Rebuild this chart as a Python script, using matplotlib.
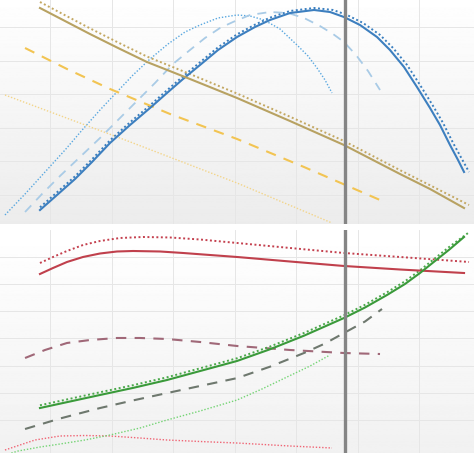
import matplotlib
matplotlib.use("Agg")
import matplotlib.pyplot as plt
import numpy as np

# ---- top panel data ----
blue_x = [0.837, 1.114, 1.407, 1.683, 1.976, 2.301, 2.626, 2.902, 3.163, 3.439, 3.732, 4.041, 4.333, 4.577,
		  4.902, 5.293, 5.553, 5.780, 6.041, 6.317, 6.528, 6.756, 6.967, 7.179, 7.341, 7.504, 7.634, 7.732]
blue_y = [0.553, 1.000, 1.476, 1.982, 2.548, 3.083, 3.589, 4.036, 4.452, 4.869, 5.315, 5.702, 6.000, 6.208,
		  6.416, 6.506, 6.446, 6.297, 6.059, 5.702, 5.315, 4.809, 4.214, 3.589, 3.083, 2.488, 2.042, 1.685]
blue_dot_x = [0.837, 1.114, 1.407, 1.683, 1.976, 2.301, 2.626, 2.902, 3.163, 3.439, 3.732, 4.041, 4.333, 4.577,
			  4.902, 5.293, 5.603, 5.830, 6.091, 6.367, 6.578, 6.806, 7.017, 7.229, 7.391, 7.554, 7.694, 7.813]
blue_dot_y = [0.633, 1.080, 1.556, 2.062, 2.628, 3.163, 3.669, 4.116, 4.532, 4.949, 5.395, 5.782, 6.070, 6.278,
			  6.476, 6.566, 6.506, 6.357, 6.119, 5.762, 5.375, 4.869, 4.274, 3.649, 3.143, 2.548, 2.082, 1.685]
blue_dash_x = [0.594, 0.870, 1.163, 1.488, 1.813, 2.138, 2.415, 2.707, 3.000, 3.276, 3.520, 3.764, 3.976, 4.252,
			   4.577, 4.870, 5.130, 5.390, 5.602, 5.780, 5.976, 6.171, 6.366]
blue_dash_y = [0.494, 1.030, 1.566, 2.131, 2.696, 3.292, 3.798, 4.333, 4.900, 5.315, 5.672, 5.970, 6.149, 6.357,
			   6.446, 6.416, 6.268, 6.029, 5.791, 5.553, 5.166, 4.690, 4.125]
blue_dot2_x = [0.268, 0.594, 0.919, 1.244, 1.537, 1.813, 2.057, 2.350, 2.626, 2.919, 3.195, 3.439, 3.732, 4.041,
			   4.252, 4.480, 4.740, 5.016, 5.195, 5.341, 5.472, 5.585]
blue_dot2_y = [0.405, 1.030, 1.685, 2.339, 2.964, 3.530, 4.006, 4.571, 5.047, 5.494, 5.851, 6.059, 6.268, 6.357,
			   6.327, 6.208, 5.940, 5.464, 5.137, 4.780, 4.422, 4.036]

gold_x = [0.837, 1.244, 1.650, 2.106, 2.577, 3.276, 4.041, 4.902, 5.780, 6.691, 7.179, 7.732]
gold_y = [6.565, 6.178, 5.791, 5.375, 4.958, 4.452, 3.887, 3.202, 2.488, 1.625, 1.179, 0.613]
gold_dot_x = [0.837, 1.244, 1.650, 2.106, 2.577, 3.276, 4.041, 4.902, 5.780, 6.691, 7.179, 7.813]
gold_dot_y = [6.744, 6.350, 5.960, 5.540, 5.120, 4.600, 4.020, 3.330, 2.607, 1.740, 1.290, 0.702]
gold_dash_x = [0.594, 1.276, 1.976, 2.951, 4.041, 5.130, 6.366]
gold_dash_y = [5.375, 4.750, 4.155, 3.411, 2.667, 1.833, 0.851]
gold_dot2_x = [0.268, 2.138, 4.041, 5.585]
gold_dot2_y = [3.976, 2.696, 1.357, 0.167]

# ---- bottom panel data ----
red_x = [0.837, 1.049, 1.276, 1.537, 1.813, 2.089, 2.350, 2.789, 3.163, 3.602, 4.041, 4.902, 5.780, 6.691, 7.732]
red_y = [6.368, 6.588, 6.809, 6.993, 7.121, 7.195, 7.213, 7.195, 7.140, 7.066, 6.993, 6.827, 6.662, 6.533, 6.404]
red_dot_x = [0.837, 1.049, 1.276, 1.537, 1.813, 2.138, 2.512, 2.951, 3.439, 4.041, 4.902, 5.780, 6.691, 7.813]
red_dot_y = [6.772, 6.993, 7.213, 7.434, 7.581, 7.691, 7.728, 7.710, 7.636, 7.508, 7.324, 7.140, 6.993, 6.809]
red_dash_x = [0.594, 0.919, 1.276, 1.650, 2.089, 2.463, 2.902, 3.439, 4.041, 4.902, 5.780, 6.366]
red_dash_y = [3.279, 3.574, 3.831, 3.941, 4.015, 4.015, 3.978, 3.868, 3.721, 3.574, 3.463, 3.426]
red_dot2_x = [0.268, 0.512, 0.756, 1.163, 1.569, 1.976, 2.463, 2.902, 3.439, 4.041, 4.902, 5.585]
red_dot2_y = [-0.103, 0.081, 0.265, 0.412, 0.430, 0.412, 0.338, 0.265, 0.210, 0.154, 0.044, -0.029]

green_x = [0.837, 1.325, 1.813, 2.350, 2.902, 3.439, 4.041, 4.577, 5.130, 5.780, 6.122, 6.480, 6.772, 7.016,
		   7.260, 7.504, 7.732]
green_y = [1.441, 1.680, 1.920, 2.180, 2.470, 2.800, 3.170, 3.600, 4.100, 4.750, 5.136, 5.596, 6.000, 6.404,
		   6.846, 7.287, 7.728]
green_dot_x = [0.837, 1.325, 1.813, 2.350, 2.902, 3.439, 4.041, 4.577, 5.130, 5.780, 6.122, 6.480, 6.772, 7.016,
			   7.260, 7.504, 7.813]
green_dot_y = [1.541, 1.780, 2.020, 2.280, 2.570, 2.900, 3.270, 3.700, 4.200, 4.850, 5.236, 5.696, 6.100, 6.504,
			   6.946, 7.387, 7.900]
gray_dash_x = [0.594, 1.163, 1.813, 2.350, 2.902, 3.439, 4.041, 4.577, 5.130, 5.472, 5.780, 6.122, 6.398]
gray_dash_y = [0.669, 1.055, 1.440, 1.720, 1.990, 2.250, 2.540, 2.960, 3.463, 3.813, 4.199, 4.621, 5.081]
green_dot2_x = [0.268, 0.480, 0.837, 1.163, 1.569, 1.976, 2.463, 2.902, 3.439, 4.041, 4.447, 4.854, 5.228, 5.553]
green_dot2_y = [-0.287, -0.140, 0.007, 0.118, 0.265, 0.449, 0.706, 1.000, 1.331, 1.735, 2.140, 2.581, 2.985, 3.390]

marker_x = 5.8
x_grid = [1, 2, 3, 4, 5, 6, 7]
top_ygrid = [1, 2, 3, 4, 5, 6]
bot_ygrid = [1, 2, 3, 4, 5, 6, 7]

DOT = (0, (1, 1.3))
DASH = (0, (5, 4))

fig = plt.figure(figsize=(4.74, 4.53), dpi=100)
ax_top = fig.add_axes([0, 229 / 453, 1, 229 / 453])
ax_bot = fig.add_axes([0, 0, 1, 223 / 453])

def style_panel(ax, ylim, ygrid, bottom_gray):
	""" gradient background, grid, no spines """
	grad = np.linspace(1.0, bottom_gray, 256).reshape(-1, 1)
	ax.imshow(grad, cmap="gray", vmin=0, vmax=1, aspect="auto",
			  extent=[0, 1, 0, 1], transform=ax.transAxes, zorder=0)
	ax.set_xlim(0.187, 7.894)
	ax.set_ylim(*ylim)
	for g in x_grid:
		ax.axvline(g, color="#e6e6e6", lw=0.7, zorder=1)
	for g in ygrid:
		ax.axhline(g, color="#e6e6e6", lw=0.7, zorder=1)
	ax.axvline(marker_x, color="#858585", lw=2.4, zorder=5)
	for s in ax.spines.values():
		s.set_visible(False)
	ax.set_xticks([])
	ax.set_yticks([])

style_panel(ax_top, (0.137, 6.952), top_ygrid, 0.925)
style_panel(ax_bot, (-0.213, 7.985), bot_ygrid, 0.945)

# top panel lines
ax_top.plot(blue_dot2_x, blue_dot2_y, color="#5aa8e0", lw=1.0, ls=DOT, zorder=3)
ax_top.plot(blue_dash_x, blue_dash_y, color="#a9cbe6", lw=1.3, ls=DASH, zorder=3)
ax_top.plot(blue_dot_x, blue_dot_y, color="#3a7fc0", lw=1.4, ls=DOT, zorder=3)
ax_top.plot(blue_x, blue_y, color="#3d7fbf", lw=1.5, zorder=4)
ax_top.plot(gold_dot2_x, gold_dot2_y, color="#f3d58a", lw=1.0, ls=DOT, zorder=3)
ax_top.plot(gold_dash_x, gold_dash_y, color="#f2c452", lw=1.5, ls=DASH, zorder=3)
ax_top.plot(gold_dot_x, gold_dot_y, color="#c4a862", lw=1.4, ls=DOT, zorder=3)
ax_top.plot(gold_x, gold_y, color="#b8a262", lw=1.5, zorder=4)

# bottom panel lines
ax_bot.plot(red_dot2_x, red_dot2_y, color="#f06474", lw=1.0, ls=DOT, zorder=3)
ax_bot.plot(red_dash_x, red_dash_y, color="#a06878", lw=1.5, ls=DASH, zorder=3)
ax_bot.plot(red_dot_x, red_dot_y, color="#c4404e", lw=1.4, ls=DOT, zorder=3)
ax_bot.plot(red_x, red_y, color="#c0404c", lw=1.5, zorder=4)
ax_bot.plot(green_dot2_x, green_dot2_y, color="#74d474", lw=1.0, ls=DOT, zorder=3)
ax_bot.plot(gray_dash_x, gray_dash_y, color="#6e786e", lw=1.5, ls=DASH, zorder=3)
ax_bot.plot(green_dot_x, green_dot_y, color="#4aa84a", lw=1.4, ls=DOT, zorder=3)
ax_bot.plot(green_x, green_y, color="#3a9a3a", lw=1.5, zorder=4)

fig.savefig("out.png", dpi=100)
